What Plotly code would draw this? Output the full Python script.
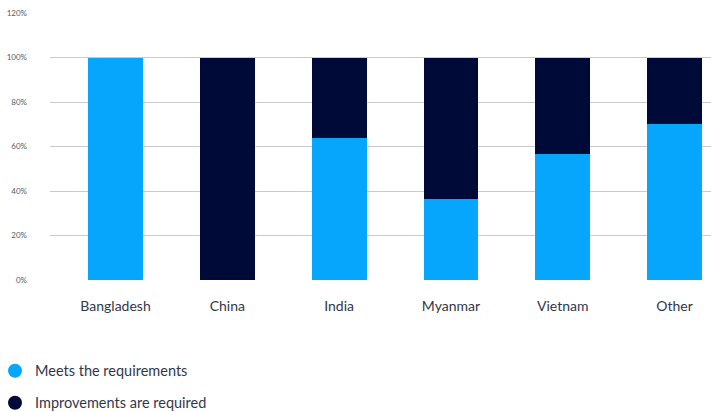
import plotly.graph_objects as go

categories = ["Bangladesh", "China", "India", "Myanmar", "Vietnam", "Other"]
meets = [100, 0, 64, 36.5, 56.5, 70]
improve = [0, 100, 36, 63.5, 43.5, 30]
tick_vals = [0, 20, 40, 60, 80, 100, 120]
tick_text = ["0%", "20%", "40%", "60%", "80%", "100%", "120%"]

BLUE = "#06A6FC"
NAVY = "#000A38"
FONT = "Lato"

fig = go.Figure()
fig.add_trace(go.Bar(x=categories, y=meets, marker_color=BLUE, width=0.49,
                     marker_line_width=0, showlegend=False,
                     name="Meets the requirements"))
fig.add_trace(go.Bar(x=categories, y=improve, marker_color=NAVY, width=0.49,
                     marker_line_width=0, showlegend=False,
                     name="Improvements are required"))
# legend entries as circles
fig.add_trace(go.Scatter(x=[None], y=[None], mode="markers",
                         marker=dict(symbol="circle", size=14, color=BLUE),
                         name="Meets the requirements", legend="legend"))
fig.add_trace(go.Scatter(x=[None], y=[None], mode="markers",
                         marker=dict(symbol="circle", size=14, color=NAVY),
                         name="Improvements are required", legend="legend2"))

# plot area: x 50..711, y 13..280 (pixels)
fig.update_layout(
    width=711, height=412,
    margin=dict(l=50, r=0, t=13, b=132, autoexpand=False),
    barmode="stack",
    plot_bgcolor="white", paper_bgcolor="white",
    font=dict(family=FONT, size=13, color="#33374a"),
    xaxis=dict(range=[-0.586, 5.326], showgrid=False, zeroline=False,
               showline=False, ticks="", ticklabelstandoff=16,
               tickfont=dict(size=14, color="#33374a"), automargin=False),
    yaxis=dict(range=[0, 120], tickvals=tick_vals, ticktext=tick_text,
               showgrid=True, gridcolor="#c9c9d3", gridwidth=1,
               zeroline=False, showline=False, ticks="",
               ticklabelstandoff=22, automargin=False,
               tickfont=dict(size=8, color="#555a66")),
    legend=dict(x=-0.0832, y=-0.34, xanchor="left", yanchor="middle",
                font=dict(size=14.5, color="#33374a"), bgcolor="rgba(0,0,0,0)"),
    legend2=dict(x=-0.0832, y=-0.46, xanchor="left", yanchor="middle",
                 font=dict(size=14.5, color="#33374a"), bgcolor="rgba(0,0,0,0)"),
)

fig.write_html("out.html", config={"displayModeBar": False},
               post_script="document.body.style.margin='0';document.body.style.overflow='hidden';")
